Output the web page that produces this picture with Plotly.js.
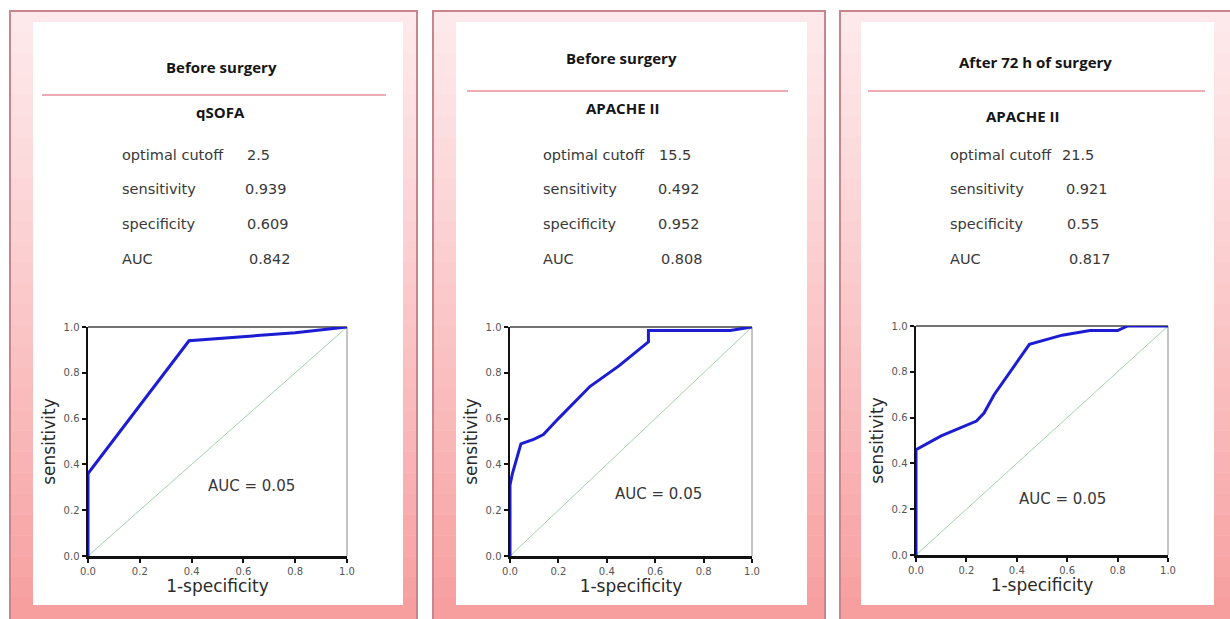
<!DOCTYPE html>
<html>
<head>
<meta charset="utf-8">
<script src="https://cdn.plot.ly/plotly-3.0.1.min.js"></script>
<style>
  html, body { margin: 0; padding: 0; background: #ffffff; }
  #chart { width: 1230px; height: 619px; }
</style>
</head>
<body>
<div id="chart"></div>
<script>
// ---------------- DATA ----------------
const panelHeaders = ["Before surgery", "Before surgery", "After 72 h of surgery"];
const panelScores = ["qSOFA", "APACHE II", "APACHE II"];
const statLabels = ["optimal cutoff", "sensitivity", "specificity", "AUC"];
const statValues1 = ["2.5", "0.939", "0.609", "0.842"];
const statValues2 = ["15.5", "0.492", "0.952", "0.808"];
const statValues3 = ["21.5", "0.921", "0.55", "0.817"];
const aucLabel = "AUC = 0.05";

// ROC curves (x = 1-specificity, y = sensitivity)
const roc1X = [0, 0, 0.39, 0.80, 1.0];
const roc1Y = [0, 0.36, 0.94, 0.975, 1.0];
const roc2X = [0, 0, 0.01, 0.045, 0.10, 0.138, 0.20, 0.33, 0.45, 0.572, 0.572, 0.91, 1.0];
const roc2Y = [0, 0.31, 0.36, 0.49, 0.51, 0.53, 0.60, 0.74, 0.83, 0.935, 0.985, 0.985, 1.0];
const roc3X = [0, 0, 0.10, 0.24, 0.27, 0.29, 0.31, 0.45, 0.58, 0.69, 0.80, 0.84, 1.0];
const roc3Y = [0, 0.46, 0.52, 0.585, 0.62, 0.66, 0.70, 0.92, 0.96, 0.98, 0.98, 1.0, 1.0];
const refX = [0, 1];
const refY = [0, 1];
const tickVals = [0, 0.2, 0.4, 0.6, 0.8, 1.0];
const tickText = ["0.0", "0.2", "0.4", "0.6", "0.8", "1.0"];
const xTitle = "1-specificity";
const yTitle = "sensitivity";

// ---------------- LAYOUT HELPERS ----------------
const W = 1230, H = 619;
const px = v => v / W;
const py = v => 1 - v / H;

const panels = [
  { outer: [10, 11, 417, 640], inner: [33, 22, 403, 605],
    plot: [88, 327, 347, 556],
    header: [221, 67], sep: [42, 386, 95], score: [220, 112],
    labelX: 120, valueX: [245, 243, 245, 247], rows: [155, 189, 224, 259],
    auc: [251, 486], vals: statValues1, rx: roc1X, ry: roc1Y },
  { outer: [433, 11, 825, 640], inner: [456, 22, 807, 605],
    plot: [510, 327, 752, 556],
    header: [621, 58], sep: [467, 788, 91], score: [622, 108],
    labelX: 541, valueX: [657, 656, 656, 659], rows: [155, 189, 224, 259],
    auc: [658, 494], vals: statValues2, rx: roc2X, ry: roc2Y },
  { outer: [840, 11, 1240, 640], inner: [861, 22, 1214, 605],
    plot: [916, 326, 1168, 555],
    header: [1035, 62], sep: [868, 1205, 91], score: [1022, 116],
    labelX: 948, valueX: [1060, 1064, 1065, 1067], rows: [155, 189, 224, 259],
    auc: [1062, 499], vals: statValues3, rx: roc3X, ry: roc3Y }
];

function lerpColor(a, b, t) {
  const ca = [parseInt(a.slice(1,3),16), parseInt(a.slice(3,5),16), parseInt(a.slice(5,7),16)];
  const cb = [parseInt(b.slice(1,3),16), parseInt(b.slice(3,5),16), parseInt(b.slice(5,7),16)];
  const c = ca.map((v, i) => Math.round(v + (cb[i] - v) * t));
  return "rgb(" + c.join(",") + ")";
}

const shapes = [];
const annotations = [];
const data = [];
const TXT = "DejaVu Sans, Verdana, sans-serif";
const HDR = "Open Sans, Lato, sans-serif";
const layout = {
  width: W, height: H,
  margin: { l: 0, r: 0, t: 0, b: 0 },
  paper_bgcolor: "#ffffff",
  plot_bgcolor: "rgba(0,0,0,0)",
  showlegend: false,
  font: { family: TXT, color: "#333" }
};

const NB = 30;
panels.forEach((p, i) => {
  const n = i === 0 ? "" : String(i + 1);
  // gradient frame (bands)
  const [ox0, oy0, ox1, oy1] = p.outer;
  for (let k = 0; k < NB; k++) {
    const y0 = oy0 + (oy1 - oy0) * k / NB;
    const y1 = oy0 + (oy1 - oy0) * (k + 1) / NB;
    shapes.push({ type: "rect", xref: "paper", yref: "paper", layer: "below",
      x0: px(ox0), x1: px(ox1), y0: py(y0), y1: py(y1 + 0.5),
      fillcolor: lerpColor("#fde9eb", "#f79c9c", Math.pow(k / (NB - 1), 1.1)),
      line: { width: 0 } });
  }
  shapes.push({ type: "rect", xref: "paper", yref: "paper", layer: "below",
    x0: px(ox0), x1: px(ox1), y0: py(oy0), y1: py(oy1),
    fillcolor: "rgba(0,0,0,0)", line: { color: "#c7868d", width: 2 } });
  // inner white card
  const [ix0, iy0, ix1, iy1] = p.inner;
  shapes.push({ type: "rect", xref: "paper", yref: "paper", layer: "below",
    x0: px(ix0), x1: px(ix1), y0: py(iy0), y1: py(iy1),
    fillcolor: "#ffffff", line: { width: 0 } });
  // separator
  shapes.push({ type: "line", xref: "paper", yref: "paper", layer: "below",
    x0: px(p.sep[0]), x1: px(p.sep[1]), y0: py(p.sep[2]), y1: py(p.sep[2]),
    line: { color: "#ea8f99", width: 1.5 } });
  // headers
  annotations.push({ xref: "paper", yref: "paper", x: px(p.header[0]), y: py(p.header[1]),
    text: "<b>" + panelHeaders[i] + "</b>", showarrow: false, xanchor: "center", yanchor: "middle",
    font: { family: HDR, size: 15, color: "#151515" } });
  annotations.push({ xref: "paper", yref: "paper", x: px(p.score[0]), y: py(p.score[1]),
    text: "<b>" + panelScores[i] + "</b>", showarrow: false, xanchor: "center", yanchor: "middle",
    font: { family: HDR, size: 15, color: "#151515" } });
  // stats
  statLabels.forEach((lab, r) => {
    annotations.push({ xref: "paper", yref: "paper", x: px(p.labelX), y: py(p.rows[r]),
      text: lab, showarrow: false, xanchor: "left", yanchor: "middle",
      font: { family: TXT, size: 14.5, color: "#383838" } });
    annotations.push({ xref: "paper", yref: "paper", x: px(p.valueX[r]), y: py(p.rows[r]),
      text: p.vals[r], showarrow: false, xanchor: "left", yanchor: "middle",
      font: { family: TXT, size: 14.5, color: "#383838" } });
  });
  // AUC label
  annotations.push({ xref: "paper", yref: "paper", x: px(p.auc[0]), y: py(p.auc[1]),
    text: aucLabel, showarrow: false, xanchor: "center", yanchor: "middle",
    font: { family: TXT, size: 15, color: "#383838" } });

  // axes
  const [ax0, ay0, ax1, ay1] = p.plot;
  const axCommon = {
    range: [0, 1], tickvals: tickVals, ticktext: tickText,
    showgrid: false, zeroline: false, showline: true, linecolor: "#111", linewidth: 2.5,
    ticks: "outside", ticklen: 4, tickwidth: 2, tickcolor: "#111",
    tickfont: { family: TXT, size: 10, color: "#555" }, fixedrange: true, layer: "below traces"
  };
  layout["xaxis" + n] = Object.assign({}, axCommon, {
    domain: [px(ax0), px(ax1)], anchor: "y" + n,
    title: { text: xTitle, standoff: 3, font: { family: TXT, size: 17, color: "#2a2a2a" } }
  });
  layout["yaxis" + n] = Object.assign({}, axCommon, {
    domain: [py(ay1), py(ay0)], anchor: "x" + n,
    title: { text: yTitle, standoff: 4, font: { family: TXT, size: 17, color: "#2a2a2a" } }
  });
  // top and right frame lines of plot box
  shapes.push({ type: "line", xref: "x" + n + " domain", yref: "y" + n + " domain",
    x0: 0, x1: 1, y0: 1, y1: 1, line: { color: "#444", width: 1.5 }, layer: "below" });
  shapes.push({ type: "line", xref: "x" + n + " domain", yref: "y" + n + " domain",
    x0: 1, x1: 1, y0: 0, y1: 1, line: { color: "#888", width: 1 }, layer: "below" });

  // traces
  data.push({ type: "scatter", mode: "lines", x: refX, y: refY,
    xaxis: "x" + n, yaxis: "y" + n, line: { color: "#9fd3aa", width: 1 },
    hoverinfo: "skip", cliponaxis: false });
  data.push({ type: "scatter", mode: "lines", x: p.rx, y: p.ry,
    xaxis: "x" + n, yaxis: "y" + n, line: { color: "#1c1cd2", width: 3 },
    cliponaxis: false, name: panelScores[i] });
});

layout.shapes = shapes;
layout.annotations = annotations;

Plotly.newPlot("chart", data, layout, { displayModeBar: false, staticPlot: true });
</script>
</body>
</html>
